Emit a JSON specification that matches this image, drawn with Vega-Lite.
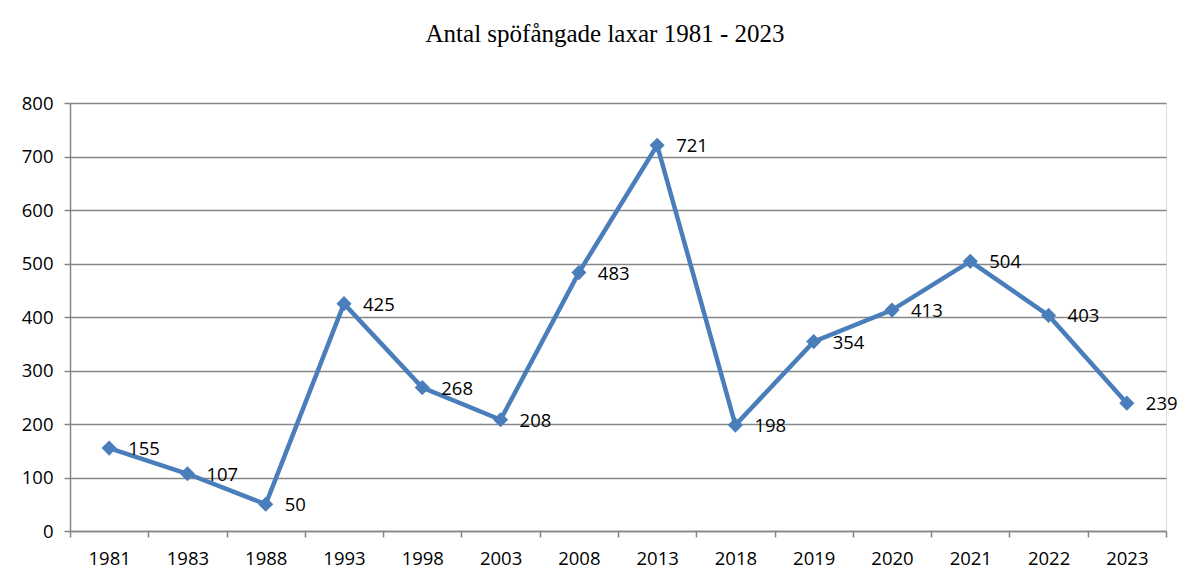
{
  "$schema": "https://vega.github.io/schema/vega-lite/v6.json",
  "width": 1096,
  "height": 428,
  "autosize": {"type": "none"},
  "padding": {"left": 70, "top": 103, "right": 19, "bottom": 47},
  "background": "white",
  "title": {
    "text": "Antal spöfångade laxar 1981 - 2023",
    "font": "Liberation Serif",
    "fontSize": 25,
    "fontWeight": "normal",
    "color": "#000000",
    "anchor": "middle",
    "baseline": "alphabetic",
    "dx": -13,
    "offset": 27
  },
  "data": {
    "values": [
      {"year": "1981", "count": 155},
      {"year": "1983", "count": 107},
      {"year": "1988", "count": 50},
      {"year": "1993", "count": 425},
      {"year": "1998", "count": 268},
      {"year": "2003", "count": 208},
      {"year": "2008", "count": 483},
      {"year": "2013", "count": 721},
      {"year": "2018", "count": 198},
      {"year": "2019", "count": 354},
      {"year": "2020", "count": 413},
      {"year": "2021", "count": 504},
      {"year": "2022", "count": 403},
      {"year": "2023", "count": 239}
    ]
  },
  "encoding": {
    "x": {
      "field": "year",
      "type": "ordinal",
      "sort": null,
      "scale": {"type": "band", "paddingInner": 0, "paddingOuter": 0},
      "axis": {
        "title": null,
        "labelAngle": 0,
        "labelFont": "Open Sans",
        "labelFontSize": 18.5,
        "labelColor": "#000000",
        "labelPadding": 12,
        "domainColor": "#868686",
        "domainWidth": 1.5,
        "tickColor": "#868686",
        "tickWidth": 1.5,
        "tickSize": 6,
        "tickBand": "extent",
        "grid": false
      }
    },
    "y": {
      "field": "count",
      "type": "quantitative",
      "scale": {"domain": [0, 800], "nice": false},
      "axis": {
        "title": null,
        "values": [0, 100, 200, 300, 400, 500, 600, 700, 800],
        "labelFont": "Open Sans",
        "labelFontSize": 18.5,
        "labelColor": "#000000",
        "labelPadding": 11,
        "domainColor": "#868686",
        "domainWidth": 1.5,
        "tickColor": "#868686",
        "tickWidth": 1.5,
        "tickSize": 6,
        "grid": true,
        "gridColor": "#868686",
        "gridWidth": 1.5
      }
    }
  },
  "layer": [
    {"mark": {"type": "line", "color": "#4a7ebb", "strokeWidth": 4.5}},
    {"mark": {"type": "point", "shape": "diamond", "filled": true, "size": 230, "color": "#4a7ebb", "opacity": 1}},
    {
      "mark": {"type": "text", "align": "left", "baseline": "middle", "dx": 19, "dy": 1, "font": "Open Sans", "fontSize": 18.5, "color": "#000000"},
      "encoding": {"text": {"field": "count", "type": "quantitative"}}
    }
  ]
}
